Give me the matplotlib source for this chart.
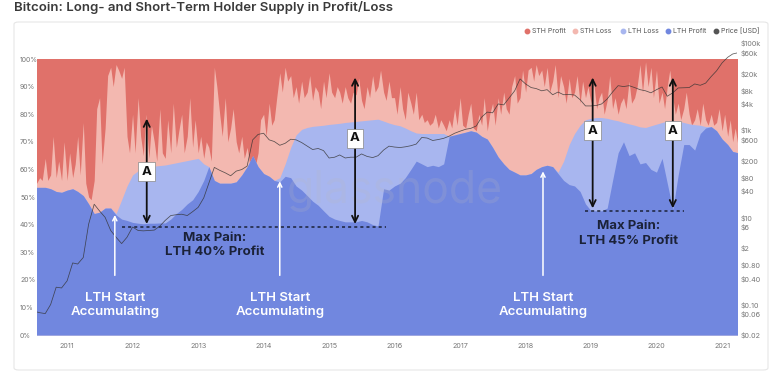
import numpy as np
import pandas as pd
import matplotlib
matplotlib.use('Agg')
import matplotlib.pyplot as plt
import matplotlib.dates as mdates
from matplotlib.patches import FancyBboxPatch
from matplotlib.lines import Line2D
from matplotlib.ticker import NullLocator

plt.rcParams['font.family'] = ['Inter', 'DejaVu Sans']

# monthly series (Jul 2010 .. Apr 2021)
months = pd.date_range('2010-07-01', '2021-04-01', freq='MS')
# semi-monthly series for the spiky STH profit/loss boundary
half_months = pd.date_range('2010-07-01', '2021-04-15', freq='SMS')

# % of supply: LTH in profit (top of dark blue)
lth_profit = [
    53.5, 53.5, 53.5, 53.0, 52.0, 51.7,
    52.5, 53.0, 52.0, 50.5, 47.5, 44.0, 44.5, 46.0, 46.0, 43.5, 42.0, 41.5,
    40.8, 40.5, 40.3, 40.5, 40.5, 40.6, 40.6, 42.0, 44.0, 45.5, 47.5, 49.0,
    52.0, 56.0, 61.0, 56.0, 55.0, 55.0, 55.0, 55.5, 58.0, 61.0, 65.0, 61.0,
    58.5, 57.5, 56.0, 55.5, 57.5, 57.0, 54.0, 52.5, 50.5, 48.5, 47.0, 45.0,
    43.0, 42.0, 41.5, 41.0, 41.0, 41.0, 41.5, 41.0, 40.0, 39.5, 53.0, 52.5,
    54.0, 55.0, 57.0, 60.0, 63.0, 62.0, 61.0, 61.5, 61.0, 62.0, 72.0, 72.5,
    73.0, 73.5, 74.0, 73.5, 72.0, 71.0, 68.0, 64.5, 62.0, 60.0, 59.0, 58.0,
    58.0, 58.5, 60.0, 61.0, 61.5, 61.0, 58.5, 56.0, 54.5, 54.0, 52.0, 47.5,
    45.0, 45.0, 45.0, 46.0, 56.0, 66.0, 70.0, 65.0, 66.0, 62.0, 62.5, 60.0,
    59.0, 64.0, 55.0, 45.5, 58.0, 69.0, 69.0, 67.0, 73.0, 75.0, 75.5, 74.0,
    71.0, 69.0, 66.5, 66.0,
]

# % of supply: LTH total = LTH profit + LTH loss (top of light blue)
lth_total = [
    53.5, 53.5, 53.5, 53.0, 52.0, 51.7,
    52.5, 53.0, 52.0, 50.5, 47.5, 44.0, 44.5, 46.0, 46.0, 44.0, 49.0, 54.0,
    58.0, 59.5, 60.5, 61.0, 61.2, 61.4, 61.6, 62.0, 62.4, 62.8, 63.2, 63.6,
    64.0, 62.0, 61.0, 56.0, 55.0, 55.0, 55.0, 55.5, 58.0, 61.0, 65.0, 61.0,
    58.5, 57.5, 56.0, 57.0, 62.0, 68.0, 72.5, 74.5, 75.2, 75.6, 75.8, 76.0,
    76.3, 76.5, 76.7, 77.0, 77.2, 77.4, 77.6, 77.8, 78.0, 78.2, 77.5, 76.8,
    76.2, 75.8, 75.0, 74.0, 73.2, 73.0, 73.0, 73.0, 73.0, 73.0, 72.0, 72.5,
    73.0, 73.5, 74.0, 73.5, 72.0, 71.0, 68.0, 64.5, 62.0, 60.0, 59.0, 58.0,
    58.0, 58.5, 60.0, 61.0, 61.5, 61.0, 59.0, 63.0, 69.0, 73.0, 76.0, 78.0,
    78.5, 78.8, 78.8, 78.5, 78.0, 77.6, 77.0, 76.5, 76.0, 75.4, 75.2, 75.8,
    76.4, 77.0, 77.5, 77.6, 77.5, 77.0, 76.5, 76.2, 76.0, 75.5, 75.5, 74.0,
    71.0, 69.0, 66.5, 66.0,
]

# % of supply: LTH + STH in loss (top of pink, rest up to 100% is STH profit)
sth_loss_top = [
    56, 55, 57, 56, 64, 56, 58, 72, 57, 63, 56, 70,
    56, 66, 57, 62, 72, 58, 77, 55, 50, 49, 56, 82, 86, 62, 75, 94, 97, 90, 98, 96, 93, 97, 72, 66,
    80, 66, 86, 72, 65, 80, 64, 76, 70, 63, 82, 66, 64, 78, 66, 84, 68, 74, 80, 66, 72, 86, 68, 78,
    66, 72, 64, 70, 68, 63, 97, 90, 80, 72, 86, 70, 75, 82, 70, 66, 72, 64, 68, 62, 62, 61, 66, 78,
    80, 72, 84, 76, 78, 86, 95, 88, 97, 92, 94, 86, 90, 84, 92, 86, 88, 94, 85, 90, 88, 82, 92, 86,
    95, 88, 86, 90, 88, 84, 90, 86, 84, 88, 87, 93, 85, 82, 90, 86, 94, 88, 90, 96, 88, 85, 92, 86,
    86, 80, 90, 82, 78, 88, 84, 80, 88, 78, 80, 77, 78, 76, 77, 80, 75, 78, 76, 74, 78, 75, 82, 76,
    86, 76, 75, 80, 84, 75, 74, 80, 76, 86, 74, 80, 84, 76, 86, 80, 88, 82, 80, 90, 94, 84, 86, 96,
    88, 96, 97, 92, 98, 94, 96, 90, 97, 88, 92, 98, 86, 94, 90, 84, 93, 86, 88, 94, 84, 92, 86, 90,
    84, 92, 82, 86, 88, 80, 85, 94, 82, 86, 80, 84, 86, 82, 92, 84, 86, 90, 98, 88, 99, 90, 97, 86,
    96, 84, 88, 82, 90, 96, 86, 80, 84, 78, 82, 88, 80, 76, 78, 82, 76, 84, 78, 76, 80, 76, 77, 82,
    74, 80, 72, 78, 70, 75, 68, 72,
]

# BTC price in USD
price = [
    0.07, 0.065, 0.062, 0.10, 0.25, 0.24,
    0.35, 0.9, 0.85, 1.2, 7.0, 20.0, 14.0, 10.0, 5.0, 3.5, 2.5, 3.5,
    6.0, 5.0, 4.9, 5.0, 5.1, 6.3, 8.5, 11.0, 11.5, 11.8, 11.0, 13.5,
    17, 28, 60, 140, 120, 105, 90, 115, 125, 150, 600, 800,
    850, 600, 550, 450, 500, 620, 600, 520, 430, 360, 380, 340,
    230, 240, 270, 230, 240, 240, 285, 250, 235, 260, 350, 430,
    410, 400, 415, 440, 480, 680, 660, 580, 610, 650, 730, 850,
    950, 1050, 1100, 1250, 2000, 2600, 2500, 4000, 3800, 5500, 8000, 15000,
    11500, 9500, 9000, 8000, 8500, 6500, 7500, 6500, 6600, 6400, 5000, 3600,
    3600, 3700, 4000, 5200, 7500, 10500, 10000, 10500, 9500, 8500, 8000, 7200,
    8500, 9800, 6000, 7200, 9300, 9400, 9500, 11500, 10700, 12000, 17000, 23000,
    35000, 47000, 56000, 60000,
]

years = list(range(2011, 2022))
pct_ticks = list(range(0, 101, 10))
price_ticks = [0.02, 0.06, 0.1, 0.4, 0.8, 2, 6, 10, 40, 80, 200, 600, 1000,
               4000, 8000, 20000, 60000, 100000]
price_labels = ['$0.02', '$0.06', '$0.10', '$0.40', '$0.80', '$2', '$6', '$10',
                '$40', '$80', '$200', '$600', '$1k', '$4k', '$8k', '$20k',
                '$60k', '$100k']

legend_labels = ['STH Profit', 'STH Loss', 'LTH Loss', 'LTH Profit', 'Price [USD]']

c_sth_profit = '#e0716a'
c_sth_loss = '#f3b8b0'
c_lth_loss = '#a8b6ef'
c_lth_profit = '#7187df'
c_price = '#333333'
navy = '#1b2238'

W, H = 784, 380


def fx(x):
    return x / W


def fy(y):
    return 1 - y / H


def d(s):
    return mdates.date2num(pd.Timestamp(s))


fig = plt.figure(figsize=(W / 100, H / 100), dpi=100)
fig.patch.set_facecolor('white')

# card
card = FancyBboxPatch((fx(14), fy(370)), (768 - 14) / W, (370 - 22) / H,
                      boxstyle='round,pad=0,rounding_size=0.006',
                      transform=fig.transFigure, fc='white', ec='#e6e6e6',
                      lw=0.8, zorder=0)
fig.add_artist(card)

fig.text(fx(14), fy(1), 'Bitcoin: Long- and Short-Term Holder Supply in Profit/Loss',
         fontsize=9.5, color='#3a3a3a', fontweight='semibold', va='top')

xmin, xmax = d('2010-07-17'), d('2021-03-25')

ax = fig.add_axes([fx(37), fy(335), 700 / W, 276 / H])
ax.fill_between(months, 0, 100, color=c_sth_profit, lw=0)
ax.fill_between(half_months, 0, sth_loss_top, color=c_sth_loss, lw=0)
ax.fill_between(months, 0, lth_total, color=c_lth_loss, lw=0)
ax.fill_between(months, 0, lth_profit, color=c_lth_profit, lw=0)
ax.set_xlim(xmin, xmax)
ax.set_ylim(0, 100)
ax.set_yticks(pct_ticks)
ax.set_yticklabels([f'{v}%' for v in pct_ticks])
ax.set_xticks([d(f'{y}-01-01') for y in years])
ax.set_xticklabels([str(y) for y in years])
ax.tick_params(axis='y', length=0, pad=12.2, labelsize=5, labelcolor='#777777')
ax.tick_params(axis='x', length=0, pad=6, labelsize=5.2, labelcolor='#777777')
for lbl in ax.get_yticklabels():
    lbl.set_ha('left')
for s in ax.spines.values():
    s.set_visible(False)

# price axis (log), taller than the stacked area
ax2 = fig.add_axes([fx(37), fy(335), 700 / W, (335 - 43) / H])
ax2.patch.set_alpha(0)
ax2.plot(months, price, color=c_price, lw=0.55, alpha=0.8)
ax2.set_yscale('log')
ax2.set_ylim(0.02, 100000)
ax2.set_xlim(xmin, xmax)
ax2.set_xticks([])
ax2.set_yticks(price_ticks)
ax2.set_yticklabels(price_labels)
ax2.yaxis.set_minor_locator(NullLocator())
ax2.yaxis.tick_right()
ax2.tick_params(axis='y', length=0, pad=2.5, labelsize=5.2, labelcolor='#777777')
for s in ax2.spines.values():
    s.set_visible(False)

T = ax.transData

# watermark
ax2.text(d('2016-01-01'), 52, 'glassnode', transform=T, ha='center',
         va='center', fontsize=32, color='#b8b8c0', alpha=0.2)

# "A" arrows
a_arrows = [('2012-03-20', 39.2, 79.4, 59.2),
            ('2015-05-26', 39.2, 94.3, 71.3),
            ('2019-01-10', 44.9, 94.3, 74.0),
            ('2020-04-01', 44.9, 94.3, 74.0)]
for ds, y0, y1, yb in a_arrows:
    x = d(ds)
    ax2.annotate('', xy=(x, y1), xytext=(x, y0), xycoords=T, textcoords=T,
                 arrowprops=dict(arrowstyle='<->,head_length=0.45,head_width=0.22',
                                 color='#111111', lw=1.3))
    ax2.text(x, yb, 'A', transform=T, ha='center', va='center', fontsize=9.5,
             fontweight='bold', color='#111111',
             bbox=dict(boxstyle='square,pad=0.25', fc='white', ec='#888888', lw=0.5))

# max pain dotted lines + text
ax2.plot([d('2011-11-03'), d('2015-11-13')], [39.2, 39.2],
         transform=T, color=navy, lw=1.1, ls=(0, (2, 2)))
ax2.plot([d('2018-11-28'), d('2020-06-02')], [44.9, 44.9],
         transform=T, color=navy, lw=1.1, ls=(0, (2, 2)))
ax2.text(d('2013-04-05'), 32.5, 'Max Pain:\nLTH 40% Profit', transform=T,
         ha='center', va='center', fontsize=9.5, fontweight='bold', color=navy,
         linespacing=1.25)
ax2.text(d('2019-07-30'), 36.8, 'Max Pain:\nLTH 45% Profit', transform=T,
         ha='center', va='center', fontsize=9.5, fontweight='bold', color=navy,
         linespacing=1.25)

# LTH start accumulating arrows
starts = [('2011-09-24', 44.5), ('2014-04-01', 56.7), ('2018-04-08', 60.3)]
for ds, ytop in starts:
    x = d(ds)
    ax2.annotate('', xy=(x, ytop), xytext=(x, 20.6), xycoords=T, textcoords=T,
                 arrowprops=dict(arrowstyle='->,head_length=0.3,head_width=0.15',
                                 color='white', lw=1.1))
    ax2.text(x, 10.8, 'LTH Start\nAccumulating', transform=T, ha='center',
             va='center', fontsize=9.5, fontweight='semibold', color='white',
             linespacing=1.2)

# legend
leg_x = [527, 575, 623, 668, 716]
leg_c = [c_sth_profit, c_sth_loss, c_lth_loss, c_lth_profit, '#555555']
for lab, x, c in zip(legend_labels, leg_x, leg_c):
    fig.add_artist(Line2D([fx(x)], [fy(31)], marker='o', ms=3.2, color=c,
                          lw=0, transform=fig.transFigure))
    fig.text(fx(x + 5), fy(31), lab, fontsize=5, color='#555555', va='center')

fig.savefig('out.png', dpi=100)
